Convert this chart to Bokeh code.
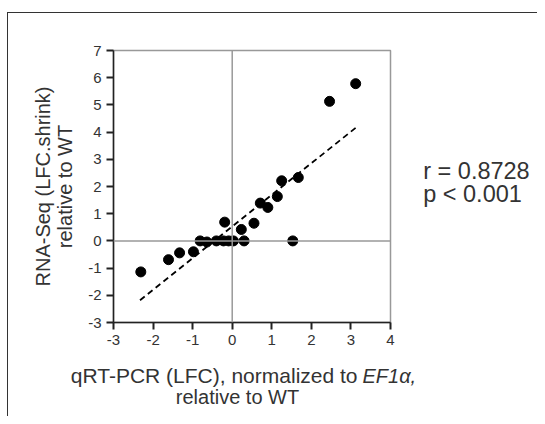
import math
from bokeh.plotting import figure
from bokeh.models import Range1d, FixedTicker, Span, Label
from bokeh.embed import file_html
from bokeh.resources import INLINE

# qRT-PCR LFC (x) vs RNA-Seq LFC.shrink (y)
qpcr = [-2.31, -1.61, -1.33, -0.98, -0.81, -0.64, -0.40, -0.22, -0.19, -0.09, 0.03,
        0.23, 0.30, 0.55, 0.71, 0.90, 1.14, 1.25, 1.53, 1.67, 2.46, 3.12]
rnaseq = [-1.14, -0.69, -0.44, -0.40, 0.0, -0.04, 0.0, 0.0, 0.69, 0.0, 0.0,
          0.42, 0.0, 0.65, 1.39, 1.23, 1.63, 2.21, 0.0, 2.33, 5.13, 5.78]
fit_x = [-2.33, 3.13]
fit_y = [-2.18, 4.17]
x_ticks = [-3, -2, -1, 0, 1, 2, 3, 4]
y_ticks = [-3, -2, -1, 0, 1, 2, 3, 4, 5, 6, 7]
stats = ["r = 0.8728", "p < 0.001"]
x_title = ["qRT-PCR (LFC), normalized to", "EF1\u03b1,", "relative to WT"]
y_title = ["RNA-Seq (LFC.shrink)", "relative to WT"]

FONT = "Liberation Sans"
TXT = "#333333"

p = figure(frame_width=277, frame_height=272,
           min_border_left=105, min_border_right=147,
           min_border_top=37, min_border_bottom=94,
           x_range=Range1d(-3, 4), y_range=Range1d(-3, 7),
           output_backend="svg", toolbar_location=None)
p.styles = {"border-top": "1px solid #333", "border-left": "1px solid #333",
            "margin-top": "12px", "margin-left": "7px"}

p.grid.visible = False
p.outline_line_color = "#999999"
p.outline_line_width = 1.5

for ax, ticks in ((p.xaxis[0], x_ticks), (p.yaxis[0], y_ticks)):
    ax.ticker = FixedTicker(ticks=ticks)
    ax.major_label_overrides = {t: str(t) for t in ticks}
    ax.minor_tick_line_color = None
    ax.major_tick_out = 7
    ax.major_tick_in = 0
    ax.major_tick_line_width = 2
    ax.major_tick_line_color = "#222222"
    ax.axis_line_color = "#222222"
    ax.axis_line_width = 1.5
    ax.major_label_text_font = FONT
    ax.major_label_text_font_size = "15px"
    ax.major_label_text_color = TXT
    ax.major_label_standoff = 5

ya = p.yaxis[0]
ya.axis_label = "\n".join(y_title)
ya.axis_label_text_font = FONT
ya.axis_label_text_font_size = "20px"
ya.axis_label_text_font_style = "normal"
ya.axis_label_text_color = TXT
ya.axis_label_text_line_height = 1.0
ya.axis_label_standoff = 9

p.add_layout(Span(location=0, dimension="height", line_color="#999999", line_width=1.5))
p.add_layout(Span(location=0, dimension="width", line_color="#999999", line_width=1.5))

p.line(fit_x, fit_y, line_color="black", line_width=1.8, line_dash="6 4")
p.scatter(qpcr, rnaseq, size=10, color="black")

def lab(side, text, x, y, align="left", style="normal", size="20px", lh=1.2):
    p.add_layout(Label(text=text, x=x, y=y, x_units="screen", y_units="screen",
                       text_font=FONT, text_font_size=size, text_color=TXT,
                       text_align=align, text_baseline="alphabetic",
                       text_line_height=lh, text_font_style=style), side)

# italic part of the x title (above panel: origin frame left / frame top)
lab("above", x_title[1], 249, -325.7, style="italic")
# stats (right panel: origin frame right / frame bottom)
lab("right", "\n".join(stats), 32.7, 140.3, size="23.5px", lh=0.88)
# rest of the x title (below panels, after the x axis)
lab("below", x_title[0], 244, -5.4, align="right", size="21px")
lab("below", x_title[2], 124, -4.1, align="center")

open("out.html", "w").write(file_html(p, INLINE))
